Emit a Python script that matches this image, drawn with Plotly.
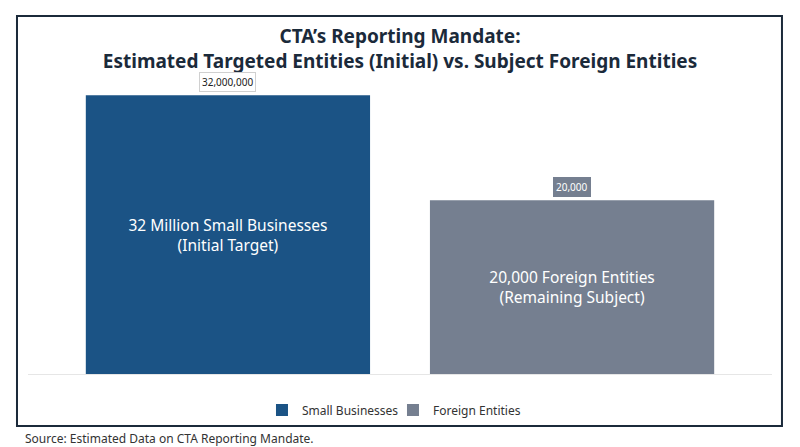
import math
import plotly.graph_objects as go

# chart data
categories = ["Small Businesses", "Foreign Entities"]
values = [32000000, 20000]
value_labels = ["32,000,000", "20,000"]
bar_texts = ["32 Million Small Businesses<br>(Initial Target)",
             "20,000 Foreign Entities<br>(Remaining Subject)"]
colors = ["#1b5385", "#757f90"]
label_bg = ["#ffffff", "#757f90"]
label_fg = ["#222222", "#ffffff"]
label_border = ["#d0d0d0", "#757f90"]

FONT = "Noto Sans"

# the page body adds an 8px margin, so the figure is drawn 8px smaller
W, H = 792, 439

fig = go.Figure()
for cat, val, txt, col in zip(categories, values, bar_texts, colors):
    fig.add_trace(go.Bar(
        x=[cat], y=[val], name=cat,
        marker=dict(color=col, line=dict(width=0)),
        text=[txt], textposition="inside", insidetextanchor="middle",
        textangle=0, constraintext="none",
        textfont=dict(family=FONT, size=15.5, color="#ffffff"),
        hoverinfo="skip",
    ))

# value labels above each bar
for cat, val, lab, bg, fg, bc in zip(categories, values, value_labels, label_bg, label_fg, label_border):
    fig.add_annotation(
        x=cat, y=math.log10(val), xref="x", yref="y",
        text=lab, showarrow=False, yanchor="bottom", yshift=3,
        font=dict(family=FONT, size=10, color=fg),
        bgcolor=bg, bordercolor=bc, borderwidth=1, borderpad=2,
    )

# source note
fig.add_annotation(
    x=-0.0067, y=-0.217, xref="paper", yref="paper",
    text="Source: Estimated Data on CTA Reporting Mandate.",
    showarrow=False, xanchor="left", yanchor="middle",
    font=dict(family=FONT, size=12, color="#333333"),
)

# frame around the chart
fig.add_shape(
    type="rect", xref="paper", yref="paper",
    x0=-0.0148, x1=1.0134, y0=-0.1763, y1=1.2136,
    line=dict(color="#1b2a3a", width=2), fillcolor="rgba(0,0,0,0)",
    layer="below",
)

fig.update_layout(
    width=W, height=H,
    margin=dict(l=20, r=28, t=71, b=73),
    paper_bgcolor="#ffffff", plot_bgcolor="#ffffff",
    barmode="overlay", bargap=0.174,
    title=dict(
        text="CTA’s Reporting Mandate:<br>Estimated Targeted Entities (Initial) vs. Subject Foreign Entities",
        x=20 / W + 372 / W, xanchor="center", y=1 - 35 / H, yanchor="middle",
        font=dict(family=FONT, size=19, color="#1b2a3a", weight="bold"),
    ),
    legend=dict(
        orientation="h", x=0.3145, xanchor="left", y=-0.122, yanchor="middle",
        entrywidth=86, entrywidthmode="pixels",
        font=dict(family=FONT, size=12, color="#333333"),
        itemclick=False, itemdoubleclick=False,
    ),
    xaxis=dict(
        type="category", range=[-0.581, 1.581], showticklabels=False,
        showgrid=False, showline=True, linecolor="#e6e6e6", linewidth=1,
        ticks="", zeroline=False, fixedrange=True,
    ),
    yaxis=dict(
        type="log", range=[-1, 8], showticklabels=False, showgrid=False,
        zeroline=False, showline=False, fixedrange=True,
    ),
    showlegend=True,
)

fig.write_html("out.html")
